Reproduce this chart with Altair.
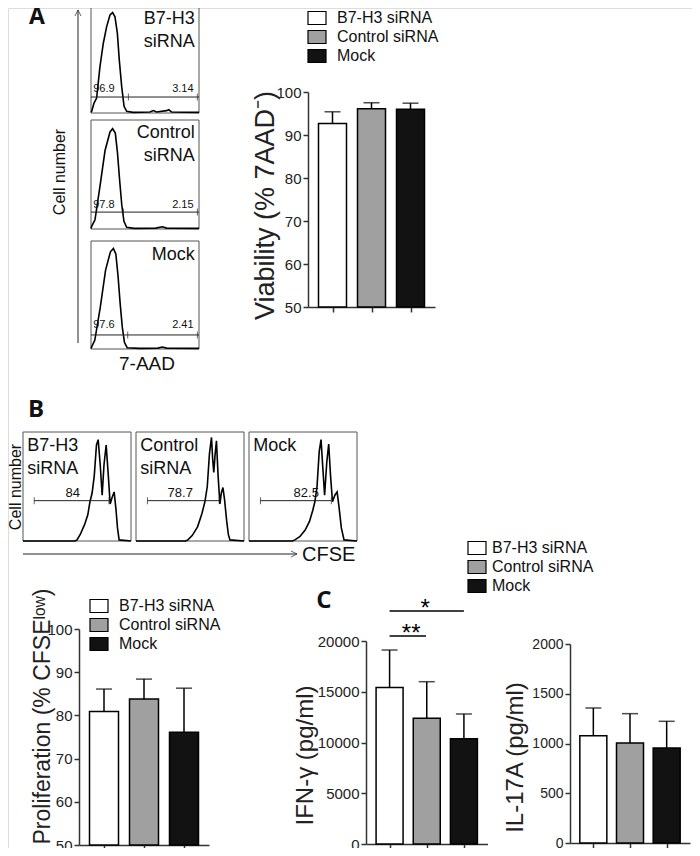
import altair as alt
import pandas as pd

OFF = 8
W, H = 684, 840
FONT = "Liberation Sans"

groups = ["B7-H3 siRNA", "Control siRNA", "Mock"]
colors = ["#ffffff", "#a0a0a0", "#121212"]

viab_mean = [92.7, 96.1, 96.0]
viab_err = [2.7, 1.4, 1.4]
prolif_mean = [80.9, 83.8, 76.1]
prolif_err = [5.2, 4.6, 10.2]
ifn_mean = [15430, 12380, 10380]
ifn_err = [3680, 3610, 2430]
il17_mean = [1079, 1005, 955]
il17_err = [278, 295, 268]

# 7-AAD histograms (x, y in % of box)
a1_x = [0, 0.6, 2.8, 5.2, 8.3, 11.4, 14.5, 17.6, 20, 22.2, 24.4, 26.2, 28.4, 30.6, 33, 39, 54.6, 57.7, 60.8, 70, 72, 74.7, 100]
a1_y = [0.5, 1.5, 9.2, 13.8, 43, 64.6, 80, 90.8, 93, 89, 74, 49, 24.6, 6.2, 1.5, 0.6, 0.9, 2.2, 0.9, 2.2, 3, 0.9, 0.6]
a2_x = [0, 0.6, 3.7, 8.3, 13, 17.6, 20, 22.5, 24.5, 26.5, 28.5, 30.5, 33, 40, 60, 66, 70, 100]
a2_y = [0.5, 2.4, 8.5, 39, 72, 89, 92, 88, 70, 45, 22, 7, 1.5, 0.6, 0.8, 2, 0.8, 0.6]
a3_x = [0, 0.6, 3.5, 8.5, 13.5, 18, 20.7, 23, 25, 27, 29, 31, 33.5, 45, 62, 66, 70, 100]
a3_y = [0.5, 2, 8, 38, 73, 90, 93, 88, 68, 42, 20, 6, 1.2, 0.6, 0.8, 1.8, 0.8, 0.6]

# CFSE histograms
b1_x = [0, 48, 50, 53, 57, 60, 62, 64, 66, 68, 69.6, 71.5, 73.3, 75, 77, 79, 80.7, 82.5, 84.4, 86, 87.5, 89, 100]
b1_y = [0, 0, 1, 6, 15, 24, 36, 44, 60, 88, 93, 70, 42, 70, 88, 60, 34, 40, 45, 30, 12, 1, 0]
b2_x = [0, 46, 48, 52, 57, 61, 63.8, 66, 68, 69.9, 71, 72, 73.3, 74.5, 76, 77.7, 79, 80.5, 82, 84, 85.5, 87, 100]
b2_y = [0, 0, 1, 5, 13, 25, 36, 50, 80, 95, 75, 63, 80, 92, 60, 34, 44, 49, 38, 18, 6, 1, 0]
b3_x = [0, 40, 42.5, 47, 52, 56, 59, 61, 63, 65, 66.7, 68.3, 70, 72, 73.8, 75.5, 77.3, 79.5, 81.6, 83.5, 85.5, 88, 100]
b3_y = [0, 0, 1, 4, 10, 18, 28, 36, 50, 82, 93, 68, 42, 72, 89, 60, 36, 42, 45, 30, 12, 1, 0]

a_labels = [[("B7-H3", 87), ("siRNA", 66)], [("Control", 88), ("siRNA", 67)], [("Mock", 87)]]
a_left = ["96.9", "97.8", "97.6"]
a_right = ["3.14", "2.15", "2.41"]
b_labels = [[("B7-H3", 87), ("siRNA", 66)], [("Control", 87), ("siRNA", 66)], [("Mock", 87)]]
b_pct = ["84", "78.7", "82.5"]


def px(v):
    return v - OFF


def hist_panel(cx, cy, box, gate, gate_ticks, texts, text_x, text_align, text_fs, nums):
    x0, x1, y0, y1 = box
    xs = alt.Scale(domain=[0, 100], range=[px(x0), px(x1)], nice=False, zero=False)
    ys = alt.Scale(domain=[0, 100], range=[px(y1), px(y0)], nice=False, zero=False)

    def X(f):
        return alt.X(f"{f}:Q", scale=xs, axis=None)

    def Y(f):
        return alt.Y(f"{f}:Q", scale=ys, axis=None)

    frame = alt.Chart(pd.DataFrame({"a": [0], "b": [100], "c": [0], "d": [100]})).mark_rect(
        fill="transparent", stroke="#555555", strokeWidth=1
    ).encode(x=X("a"), x2="b", y=Y("c"), y2="d")
    curve = alt.Chart(pd.DataFrame({"x": cx, "y": cy, "i": list(range(len(cx)))})).mark_line(
        color="black", strokeWidth=1.6
    ).encode(x=X("x"), y=Y("y"), order="i:Q")
    gx0, gx1, gy = gate
    grule = alt.Chart(pd.DataFrame({"a": [gx0], "b": [gx1], "y": [gy]})).mark_rule(
        color="#222222", strokeWidth=1
    ).encode(x=X("a"), x2="b", y=Y("y"))
    gticks = alt.Chart(pd.DataFrame({"x": gate_ticks, "y": [gy] * len(gate_ticks)})).mark_tick(
        orient="vertical", size=7, thickness=1, color="#222222"
    ).encode(x=X("x"), y=Y("y"))
    lab = alt.Chart(pd.DataFrame({"t": [t for t, _ in texts], "x": [text_x] * len(texts), "y": [y for _, y in texts]})).mark_text(
        align=text_align, baseline="middle", fontSize=text_fs, font=FONT, color="#111111"
    ).encode(x=X("x"), y=Y("y"), text="t:N")
    layers = [frame, curve, grule, gticks, lab]
    for (t, nx, ny, al, fs) in nums:
        layers.append(
            alt.Chart(pd.DataFrame({"t": [t], "x": [nx], "y": [ny]})).mark_text(
                align=al, baseline="middle", fontSize=fs, font=FONT, color="#111111"
            ).encode(x=X("x"), y=Y("y"), text="t:N")
        )
    return alt.layer(*layers)


def make_legend(lx, ly, off):
    return alt.Legend(
        orient="none", legendX=px(lx), legendY=px(ly), title=None,
        symbolType="M-1,-0.72H1V0.72H-1Z", symbolSize=324,
        symbolStrokeColor="black", symbolStrokeWidth=1.2,
        labelFontSize=16, labelFont=FONT, labelColor="#111111",
        rowPadding=0, labelOffset=off, padding=0, offset=0,
    )


def bar_panel(means, errs, ax_x, x_end, y_top, y_bot, dom, tvals, lab_fs, title, tc, tfs, bw, legend, extra=None):
    xs = alt.Scale(domain=[-0.5, 2.5], range=[px(ax_x), px(x_end)], nice=False, zero=False)
    ys = alt.Scale(domain=dom, range=[px(y_bot), px(y_top)], nice=False, zero=False)
    xaxis = alt.Axis(
        orient="bottom", offset=px(y_bot) - H, values=[0, 1, 2], labels=False, title=None,
        grid=False, tickSize=5, domainColor="#333333", tickColor="#333333", domainWidth=1.5, tickWidth=1.5,
    )
    yaxis = alt.Axis(
        orient="left", offset=-px(ax_x), values=tvals, format="d", grid=False, tickSize=5,
        labelFontSize=lab_fs, labelFont=FONT, labelColor="#222222", labelPadding=2,
        domainColor="#333333", tickColor="#333333", domainWidth=1.5, tickWidth=1.5,
        title=title, titleFont=FONT, titleFontSize=tfs, titleFontWeight="normal", titleColor="#222222",
        titleX=tc[0] - ax_x, titleY=px(tc[1]), titleBaseline="middle", titleAngle=270, titleAlign="center",
    )
    df = pd.DataFrame({
        "g": groups, "i": [0, 1, 2], "m": means,
        "top": [m + e for m, e in zip(means, errs)], "base": [dom[0]] * 3,
    })
    base = alt.Chart(df)
    X = alt.X("i:Q", scale=xs, axis=xaxis)
    bars = base.mark_bar(size=bw, stroke="black", strokeWidth=1.5).encode(
        x=X, y=alt.Y("m:Q", scale=ys, axis=yaxis), y2="base",
        color=alt.Color("g:N", scale=alt.Scale(domain=groups, range=colors), legend=legend),
    )
    err = base.mark_rule(color="black", strokeWidth=1.5).encode(
        x=X, y=alt.Y("m:Q", scale=ys, axis=yaxis), y2="top"
    )
    cap = base.mark_tick(orient="horizontal", size=16, thickness=1.5, color="black").encode(
        x=X, y=alt.Y("top:Q", scale=ys, axis=yaxis)
    )
    layers = [bars, err, cap]
    if extra:
        layers += extra(xs, ys, xaxis, yaxis)
    return alt.layer(*layers)


panels = []

# Panel A histograms
a_boxes = [(91, 199, 5, 113), (91, 199, 120, 229), (91, 199, 241, 349)]
a_curves = [(a1_x, a1_y), (a2_x, a2_y), (a3_x, a3_y)]
a_gates = [(0, 100, 14.8), (0, 100, 15.5), (0, 100, 13)]
a_mid = [34.6, 30, 34]
for k in range(3):
    nums = [(a_left[k], 2, 22, "left", 11), (a_right[k], 95, 22, "right", 11)]
    panels.append(hist_panel(a_curves[k][0], a_curves[k][1], a_boxes[k], a_gates[k], [a_mid[k], 98.5],
                             a_labels[k], 96, "right", 18, nums))

# Panel B histograms
b_boxes = [(23, 131, 432, 541), (136, 244, 432, 541), (249, 357, 432, 541)]
b_curves = [(b1_x, b1_y), (b2_x, b2_y), (b3_x, b3_y)]
b_gates = [(10.4, 79.6, 37), (10.6, 77, 37), (10.6, 76.2, 37)]
b_numx = [46, 41, 53]
for k in range(3):
    g = b_gates[k]
    nums = [(b_pct[k], b_numx[k], 44, "center", 13)]
    panels.append(hist_panel(b_curves[k][0], b_curves[k][1], b_boxes[k], g, [g[0], g[1]],
                             b_labels[k], 4, "left", 18, nums))

# Viability
panels.append(bar_panel(viab_mean, viab_err, 308, 435, 92, 307, [50, 100], [50, 60, 70, 80, 90, 100], 15,
                        "Viability (% 7AAD\u207b)", (265, 205), 27, 28, make_legend(307, 8, 10)))

# Proliferation
panels.append(bar_panel(prolif_mean, prolif_err, 79, 209, 629, 845, [50, 100], [50, 60, 70, 80, 90, 100], 15,
                        "Proliferation  (% CFSE\u02e1\u1d52\u02b7)", (42, 716), 23, 29, make_legend(89, 596, 10)))


def ifn_sig(xs, ys, xaxis, yaxis):
    sig = pd.DataFrame({"a": [0, 0], "b": [2, 0.98], "y": [22956, 20493]})
    lines = alt.Chart(sig).mark_rule(color="black", strokeWidth=1.5).encode(
        x=alt.X("a:Q", scale=xs, axis=xaxis), x2="b", y=alt.Y("y:Q", scale=ys, axis=yaxis)
    )
    st = pd.DataFrame({"t": ["*", "**"], "x": [0.96, 0.58], "y": [22480, 20020]})
    stars = alt.Chart(st).mark_text(fontSize=24, font=FONT, baseline="alphabetic", align="center", color="black").encode(
        x=alt.X("x:Q", scale=xs, axis=xaxis), y=alt.Y("y:Q", scale=ys, axis=yaxis), text="t:N"
    )
    return [lines, stars]


panels.append(bar_panel(ifn_mean, ifn_err, 366, 487.5, 641, 844, [0, 20000], [0, 5000, 10000, 15000, 20000], 15,
                        "IFN-\u03b3 (pg/ml)", (305, 755), 24, 27, make_legend(467, 538, 5), extra=ifn_sig))

panels.append(bar_panel(il17_mean, il17_err, 570, 690, 644, 843, [0, 2000], [0, 500, 1000, 1500, 2000], 14,
                        "IL-17A (pg/ml)", (515, 757), 24, 27, None))

# Decorations: panel letters, flow axis labels and arrows
one = pd.DataFrame({"k": [0]})


def txt(t, x, y, size, bold=False, angle=0, align="center", font=FONT):
    return alt.Chart(one).mark_text(
        text=t, fontSize=size, fontWeight="bold" if bold else "normal", angle=angle,
        align=align, baseline="middle", font=font, color="#111111",
    ).encode(x=alt.value(px(x)), y=alt.value(px(y)))


decor = [
    txt("A", 37, 17, 23, bold=True, font="Open Sans"),
    txt("B", 36, 410, 24, bold=True, font="Open Sans"),
    txt("C", 324, 601, 24, bold=True, font="Open Sans"),
    txt("Cell number", 60, 172, 16, angle=270),
    txt("Cell number", 16, 487, 16, angle=270),
    txt("7-AAD", 147, 364, 19),
    txt("CFSE", 302, 555, 20, align="left"),
    alt.Chart(one).mark_rule(color="#222222", strokeWidth=1).encode(
        x=alt.value(px(78)), y=alt.value(px(343)), y2=alt.value(px(10))),
    alt.Chart(one).mark_rule(color="#222222", strokeWidth=1).encode(
        x=alt.value(px(23)), x2=alt.value(px(297)), y=alt.value(px(554))),
    alt.Chart(one).mark_point(shape="M-1,2L0,0L1,2", size=36, filled=False, color="#222222", strokeWidth=1).encode(
        x=alt.value(px(78)), y=alt.value(px(10))),
    alt.Chart(one).mark_point(shape="M-2,-1L0,0L-2,1", size=36, filled=False, color="#222222", strokeWidth=1).encode(
        x=alt.value(px(297)), y=alt.value(px(554))),
]

chart = alt.layer(*panels, *decor).resolve_scale(
    x="independent", y="independent", color="independent"
).properties(
    width=W, height=H, autosize=alt.AutoSizeParams(type="none"), padding=0
).configure_view(stroke="transparent").configure(font=FONT)

chart.save("out.html", embed_options={"renderer": "svg", "actions": False})
